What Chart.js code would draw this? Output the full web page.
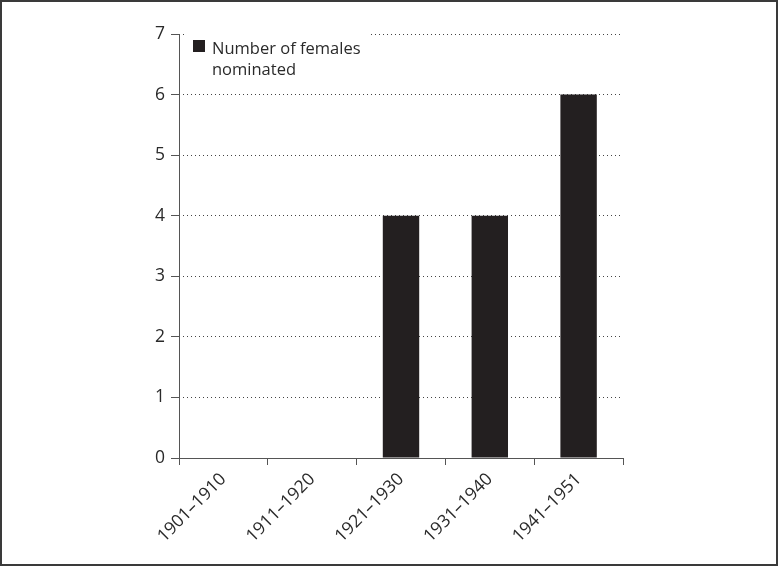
<!DOCTYPE html>
<html><head><meta charset="utf-8">
<script src="https://cdn.jsdelivr.net/npm/chart.js@4"></script>
<style>html,body{margin:0;padding:0;background:#fff}#w{width:778px;height:566px;position:relative}</style>
</head><body><div id="w"><canvas id="c" width="778" height="566"></canvas></div>
<script>
const categories = ["1901–1910","1911–1920","1921–1930","1931–1940","1941–1951"];
const femalesNominated = [0,0,4,4,6];
const seriesLabel = ["Number of females","nominated"];
const yTicks = [0,1,2,3,4,5,6,7];

const FONT = "'Open Sans', 'Noto Sans', sans-serif";
const TXT = '#2a2a2a';
const AXIS = '#555555';

const frame = {
  id:'frame',
  afterDraw(chart){
    const ctx = chart.ctx;
    const a = chart.chartArea;
    ctx.save();
    // solid y axis line
    ctx.strokeStyle = AXIS; ctx.lineWidth = 1; ctx.setLineDash([]);
    ctx.beginPath(); ctx.moveTo(a.left+0.5, a.top); ctx.lineTo(a.left+0.5, a.bottom+6); ctx.stroke();
    // legend box with white background
    ctx.fillStyle = '#fff';
    ctx.fillRect(a.left+6, a.top-4, 184, 50);
    ctx.fillStyle = '#231f20';
    ctx.fillRect(a.left+14, a.top+6, 12, 12);
    ctx.fillStyle = TXT;
    ctx.font = "16.5px " + FONT;
    ctx.textBaseline = 'alphabetic';
    ctx.fillText(seriesLabel[0], a.left+33, a.top+20);
    ctx.fillText(seriesLabel[1], a.left+33, a.top+41);
    // outer border
    ctx.strokeStyle = '#3a3a3a';
    ctx.lineWidth = 2;
    ctx.strokeRect(1,1,chart.width-2,chart.height-2);
    ctx.restore();
  }
};

new Chart(document.getElementById('c'), {
  type:'bar',
  data:{labels:categories, datasets:[{label:seriesLabel.join(' '), data:femalesNominated, backgroundColor:'#231f20', barPercentage:0.41, categoryPercentage:1}]},
  options:{
    responsive:false, animation:false, devicePixelRatio:1,
    layout:{padding:{left:0,right:155,top:34,bottom:0}},
    plugins:{legend:{display:false}, tooltip:{enabled:false}},
    scales:{
      x:{
        afterFit(s){ s.height = 108; },
        grid:{display:true, drawOnChartArea:false, offset:true, tickLength:7, tickColor:AXIS, color:AXIS},
        border:{display:true, color:AXIS, width:1},
        ticks:{color:TXT, font:{family:FONT, size:17.5}, maxRotation:45, minRotation:45, padding:4}
      },
      y:{
        min:0, max:7,
        afterFit(s){ s.width = 179; },
        afterBuildTicks(s){ s.ticks = yTicks.map(v=>({value:v})); },
        grid:{display:true, color:'#444', lineWidth:1, tickLength:8, tickColor:AXIS, tickBorderDash:[], tickWidth:1},
        border:{display:false, color:AXIS, width:1, dash:[1,3]},
        ticks:{color:TXT, font:{family:FONT, size:17.5}, padding:6}
      }
    }
  },
  plugins:[frame]
});
</script></body></html>
